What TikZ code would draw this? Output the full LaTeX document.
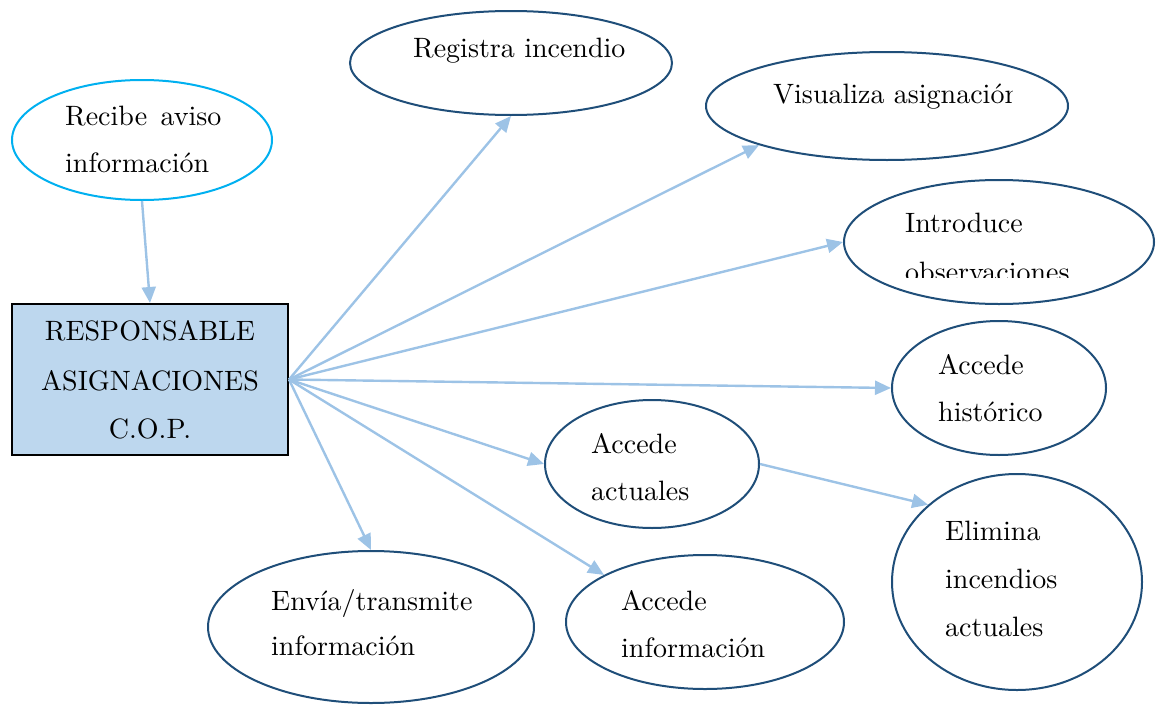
\documentclass[tikz,border=0pt]{standalone}
\usepackage{fontspec}
\setmainfont{lmroman10-regular.otf}
\usetikzlibrary{shapes.geometric,arrows.meta}
\definecolor{edgeblue}{HTML}{1F4E79}
\definecolor{linkblue}{HTML}{9DC3E6}
\definecolor{boxfill}{HTML}{BDD7EE}
\definecolor{startcyan}{HTML}{00B0F0}
\begin{document}
\begin{tikzpicture}[x=1pt,y=-1pt,
  oval/.style={ellipse,draw=edgeblue,line width=2pt,fill=white,inner sep=0pt},
  txt/.style={anchor=base west,inner sep=0pt,font=\fontsize{28}{34}\selectfont},
  ctxt/.style={anchor=base,inner sep=0pt,font=\fontsize{28}{34}\selectfont},
  link/.style={draw=linkblue,line width=2.4pt,-{Triangle[length=16pt,width=14pt]}}]
\useasboundingbox (0,0) rectangle (1156,704);

% central actor
\node[draw=black,fill=boxfill,line width=2pt,minimum width=276pt,minimum height=151pt,inner sep=0pt] (r) at (150,379.5) {};
\node[ctxt] (r1) at (150,340) {RESPONSABLE};
\node[ctxt] (r2) at (150,390) {ASIGNACIONES};
\node[ctxt] (r3) at (150,438) {C.O.P.};

% activities
\node[oval,draw=startcyan,minimum width=260pt,minimum height=120pt] (e1) at (142,140) {};
\node[oval,minimum width=322pt,minimum height=104pt] (e2) at (511,63) {};
\node[oval,minimum width=362pt,minimum height=108pt] (e3) at (887,106) {};
\node[oval,minimum width=310pt,minimum height=124pt] (e4) at (999,242) {};
\node[oval,minimum width=214pt,minimum height=134pt] (e5) at (999,388) {};
\node[oval,minimum width=214pt,minimum height=128pt] (e6) at (652,464) {};
\node[oval,minimum width=250pt,minimum height=216pt] (e7) at (1017,582) {};
\node[oval,minimum width=326pt,minimum height=152pt] (e8) at (371,627) {};
\node[oval,minimum width=278pt,minimum height=134pt] (e9) at (705,622) {};

% labels
\node[txt] (l1a) at (65,125) {Recibe\hspace{4pt} aviso};
\node[txt] (l1b) at (65,172) {información};
\node[txt] (l2) at (413,57) {Registra incendio};
\begin{scope}
  \clip (760,60) rectangle (1012,130);
  \node[txt] (l3) at (773,103) {Visualiza asignación};
\end{scope}
\node[txt] (l4a) at (905,232) {Introduce};
\begin{scope}
  \clip (890,250) rectangle (1100,277);
  \node[txt] (l4b) at (905,281) {observaciones};
\end{scope}
\node[txt] (l5a) at (938,374) {Accede};
\node[txt] (l5b) at (938,421) {histórico};
\node[txt] (l6a) at (591,453) {Accede};
\node[txt] (l6b) at (591,500) {actuales};
\node[txt] (l7a) at (945,540) {Elimina};
\node[txt] (l7b) at (945,588) {incendios};
\node[txt] (l7c) at (945,636) {actuales};
\node[txt] (l8a) at (271,610) {Envía/transmite};
\node[txt] (l8b) at (271,655) {información};
\node[txt] (l9a) at (621,610) {Accede};
\node[txt] (l9b) at (621,657) {información};

% connectors
\draw[link] (e1.south) -- (r.north);
\draw[link] (r.east) -- (e2.south);
\draw[link] (r.east) -- (e3.197);
\draw[link] (r.east) -- (e4.west);
\draw[link] (r.east) -- (e5.west);
\draw[link] (r.east) -- (e6.west);
\draw[link] (r.east) -- (e9.155);
\draw[link] (r.east) -- (e8.north);
\draw[link] (e6.east) -- (e7.139);
\end{tikzpicture}
\end{document}
